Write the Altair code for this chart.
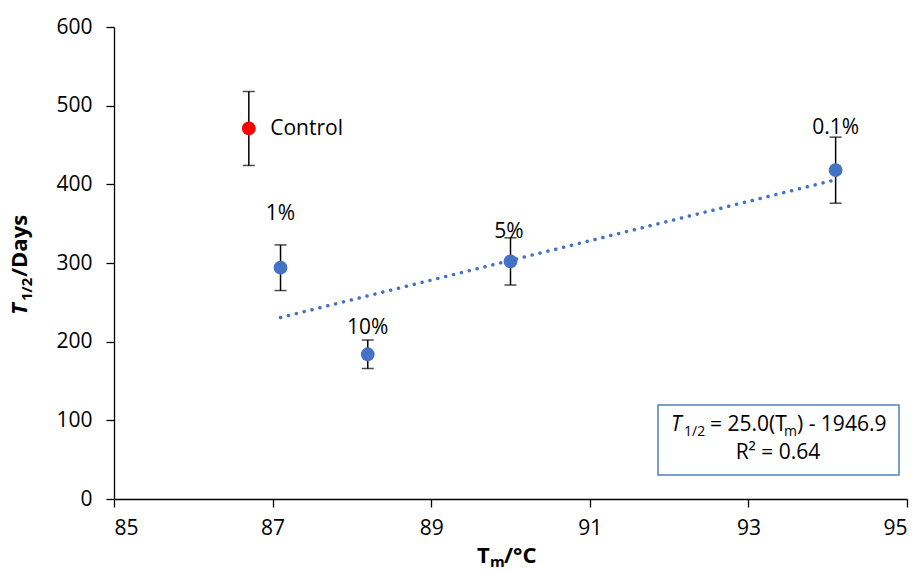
import altair as alt
import pandas as pd

# Data
labels = ["Control", "0.1%", "1%", "5%", "10%"]
tm = [86.7, 94.1, 87.1, 90.0, 88.2]
t_half = [471, 418, 294, 302, 184]
err = [47, 42, 29, 30, 18]
group = ["control", "sample", "sample", "sample", "sample"]
label_x = [86.97, 94.1, 87.1, 89.98, 88.2]
label_y = [470, 471, 362, 339, 218]
label_align = ["left", "center", "center", "center", "center"]

x_ticks = [85, 87, 89, 91, 93, 95]
y_ticks = [0, 100, 200, 300, 400, 500, 600]

FONT = "Open Sans"
BLUE = "#4472C4"

df = pd.DataFrame({
    "label": labels, "tm": tm, "t_half": t_half, "err": err, "group": group,
    "label_x": label_x, "label_y": label_y, "align": label_align,
})
df["lo"] = df["t_half"] - df["err"]
df["hi"] = df["t_half"] + df["err"]

xscale = alt.Scale(domain=[85, 95], nice=False, zero=False)
yscale = alt.Scale(domain=[0, 600], nice=False)

xaxis = alt.Axis(values=x_ticks, title=None, grid=False, format="d")
yaxis = alt.Axis(values=y_ticks, title=None, grid=False, format="d")

base = alt.Chart(df)

err_rule = base.mark_rule(color="black", strokeWidth=1.5).encode(
    x=alt.X("tm:Q", scale=xscale, axis=xaxis),
    y=alt.Y("lo:Q", scale=yscale, axis=yaxis),
    y2="hi:Q",
)
cap_lo = base.mark_tick(color="black", orient="horizontal", size=12, thickness=1.5).encode(
    x=alt.X("tm:Q", scale=xscale), y=alt.Y("lo:Q", scale=yscale)
)
cap_hi = base.mark_tick(color="black", orient="horizontal", size=12, thickness=1.5).encode(
    x=alt.X("tm:Q", scale=xscale), y=alt.Y("hi:Q", scale=yscale)
)

trend = base.transform_filter(alt.datum.group == "sample").transform_regression(
    "tm", "t_half"
).mark_line(color=BLUE, strokeWidth=3.5, strokeDash=[0.1, 8], strokeCap="round").encode(
    x=alt.X("tm:Q", scale=xscale), y=alt.Y("t_half:Q", scale=yscale)
)

points = base.mark_circle(size=190, opacity=1).encode(
    x=alt.X("tm:Q", scale=xscale),
    y=alt.Y("t_half:Q", scale=yscale),
    color=alt.Color("group:N", scale=alt.Scale(domain=["control", "sample"], range=["#FF0000", BLUE]), legend=None),
)

lab_center = base.transform_filter(alt.datum.align == "center").mark_text(
    font=FONT, fontSize=21, color="black", align="center", baseline="middle"
).encode(x=alt.X("label_x:Q", scale=xscale), y=alt.Y("label_y:Q", scale=yscale), text="label:N")
lab_left = base.transform_filter(alt.datum.align == "left").mark_text(
    font=FONT, fontSize=21, color="black", align="left", baseline="middle"
).encode(x=alt.X("label_x:Q", scale=xscale), y=alt.Y("label_y:Q", scale=yscale), text="label:N")


def txt(s, x, y, size=21, weight="normal", style="normal", angle=0, align="left"):
    return alt.Chart(pd.DataFrame({"s": [s]})).mark_text(
        font=FONT, fontSize=size, fontWeight=weight, fontStyle=style, angle=angle,
        align=align, baseline="alphabetic", color="black",
    ).encode(text="s:N", x=alt.value(x), y=alt.value(y))


box = alt.Chart(pd.DataFrame({"s": [0]})).mark_rect(
    fill="white", stroke="#4F81BD", strokeWidth=1.5
).encode(x=alt.value(544), x2=alt.value(785), y=alt.value(378), y2=alt.value(448))

eq = [
    txt("T", 557, 404, style="italic"),
    txt("1/2", 570, 409, size=14),
    txt(" = 25.0(T", 596, 404),
    txt("m", 670, 409, size=14),
    txt(") - 1946.9", 683, 404),
    txt("R² = 0.64", 664, 432, align="center"),
]

ytitle = [
    txt("T", -87, 288, size=22, weight="bold", style="italic", angle=270),
    txt("1/2", -82, 274, size=15, weight="bold", angle=270),
    txt("/Days", -87, 250, size=22, weight="bold", angle=270),
]
xtitle = [
    txt("T", 363, 536, size=22, weight="bold"),
    txt("m", 376, 540, size=15, weight="bold"),
    txt("/°C", 390, 536, size=22, weight="bold"),
]

chart = alt.layer(
    err_rule, cap_lo, cap_hi, trend, points, lab_center, lab_left, box, *eq, *ytitle, *xtitle
).properties(
    width=793, height=472,
    padding={"left": 106, "top": 19, "right": 5, "bottom": 68},
    autosize=alt.AutoSizeParams(type="none"),
    background="white",
).configure_view(stroke=None).configure_axis(
    domainColor="black", domainWidth=1.3, tickColor="black", tickWidth=1.3, tickSize=8,
    labelFont=FONT, labelFontSize=21, labelColor="black",
).configure_axisX(labelPadding=10).configure_axisY(labelPadding=14)

chart.save("out.html", embed_options={"renderer": "svg", "actions": False})
